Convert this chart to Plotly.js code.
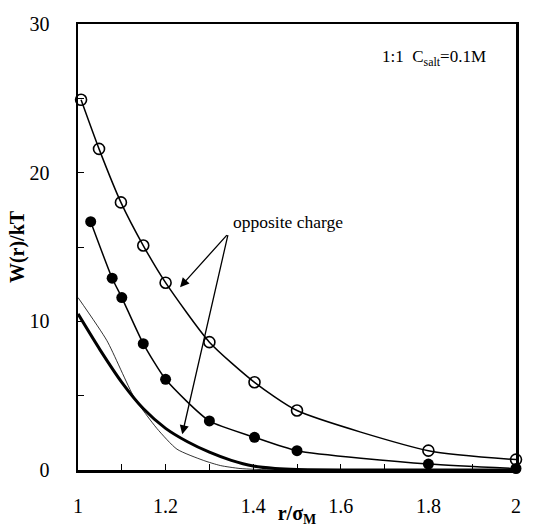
<!DOCTYPE html>
<html>
<head>
<meta charset="utf-8">
<script src="https://cdn.plot.ly/plotly-3.0.1.min.js"></script>
<style>
html,body{margin:0;padding:0;background:#fff;}
#chart{width:543px;height:527px;}
#chart text{font-family:'Liberation Serif','Times New Roman',serif !important;}
</style>
</head>
<body>
<div id="chart"></div>
<script>
// Open circles (upper curve)
const openR = [1.007, 1.048, 1.098, 1.149, 1.2, 1.3, 1.403, 1.5, 1.8, 2.0];
const openW = [24.9, 21.6, 18.0, 15.1, 12.6, 8.6, 5.9, 4.0, 1.3, 0.7];
// Filled circles (middle curve)
const fillR = [1.029, 1.078, 1.1, 1.149, 1.2, 1.3, 1.403, 1.5, 1.8, 2.0];
const fillW = [16.7, 12.9, 11.6, 8.5, 6.1, 3.3, 2.2, 1.3, 0.4, 0.1];
// Thick solid line
const thickR = [1.0, 1.05, 1.1, 1.15, 1.2, 1.25, 1.3, 1.35, 1.4, 1.45, 1.5, 2.0];
const thickW = [10.5, 8.1, 5.9, 4.1, 2.8, 1.9, 1.2, 0.65, 0.27, 0.1, 0.03, 0.0];
// Thin solid line
const thinR = [1.0, 1.066, 1.128, 1.18, 1.226, 1.286, 1.325, 1.37, 1.45, 2.0];
const thinW = [11.6, 8.7, 4.9, 2.8, 1.4, 0.65, 0.3, 0.1, 0.0, 0.0];
// Tick labels
const xTicks = [1, 1.2, 1.4, 1.6, 1.8, 2];
const xTickText = ['1', '1.2', '1.4', '1.6', '1.8', '2'];
const yTicks = [0, 10, 20, 30];
const yTickText = ['0', '10', '20', '30'];

const serif = 'Liberation Serif';

const traces = [
  {x: thinR, y: thinW, mode: 'lines', line: {color: '#000', width: 0.8, shape: 'spline', smoothing: 0.6}, hoverinfo: 'skip'},
  {x: thickR, y: thickW, mode: 'lines', line: {color: '#000', width: 3, shape: 'spline', smoothing: 0.8}, hoverinfo: 'skip'},
  {x: fillR, y: fillW, mode: 'lines+markers', cliponaxis: false,
   line: {color: '#000', width: 1.5, shape: 'spline', smoothing: 0.6},
   marker: {symbol: 'circle', size: 11, color: '#000'}},
  {x: openR, y: openW, mode: 'lines+markers', cliponaxis: false,
   line: {color: '#000', width: 1.5, shape: 'spline', smoothing: 0.6},
   marker: {symbol: 'circle-open', size: 11, color: '#000', line: {width: 1.6, color: '#000'}}}
];

const layout = {
  width: 543, height: 527,
  margin: {l: 78, r: 27, t: 24, b: 57},
  paper_bgcolor: '#fff', plot_bgcolor: '#fff',
  showlegend: false,
  font: {family: serif, color: '#000'},
  xaxis: {
    range: [1, 2], showgrid: false, zeroline: false,
    showline: true, mirror: true, linecolor: '#000', linewidth: 2.5,
    tickmode: 'array', tickvals: xTicks, ticktext: xTickText,
    ticks: 'inside', ticklen: 6, tickwidth: 1, tickcolor: '#000',
    minor: {dtick: 0.1, tick0: 1, ticks: 'inside', ticklen: 6, tickwidth: 1, tickcolor: '#000'},
    tickfont: {family: serif, size: 20, color: '#000'},
    ticklabelstandoff: 16,
    title: {text: '<b>r/σ<sub>M</sub></b>', font: {family: serif, size: 20, color: '#000'}, standoff: 0}
  },
  yaxis: {
    range: [0, 30], showgrid: false, zeroline: false,
    showline: true, mirror: true, linecolor: '#000', linewidth: 2.5,
    tickmode: 'array', tickvals: yTicks, ticktext: yTickText,
    ticks: 'inside', ticklen: 6, tickwidth: 1, tickcolor: '#000',
    minor: {dtick: 5, tick0: 0, ticks: 'inside', ticklen: 6, tickwidth: 1, tickcolor: '#000'},
    tickfont: {family: serif, size: 20, color: '#000'},
    ticklabelstandoff: 22,
    title: {text: '<b>W(r)/kT</b>', font: {family: serif, size: 20, color: '#000'}, standoff: 0}
  },
  annotations: [
    {x: 1.935, y: 27.7, xref: 'x', yref: 'y', xanchor: 'right', yanchor: 'middle', showarrow: false,
     text: '1:1  C<sub>salt</sub>=0.1M', font: {family: serif, size: 17, color: '#000'}},
    {x: 1.48, y: 16.7, xref: 'x', yref: 'y', xanchor: 'center', yanchor: 'middle', showarrow: false,
     text: 'opposite charge', font: {family: serif, size: 17.5, color: '#000'}},
    {x: 1.233, y: 12.3, ax: 1.343, ay: 15.9, xref: 'x', yref: 'y', axref: 'x', ayref: 'y',
     text: '', showarrow: true, arrowhead: 2, arrowsize: 1.4, arrowwidth: 1.3, arrowcolor: '#000'},
    {x: 1.238, y: 2.4, ax: 1.343, ay: 15.9, xref: 'x', yref: 'y', axref: 'x', ayref: 'y',
     text: '', showarrow: true, arrowhead: 2, arrowsize: 1.4, arrowwidth: 1.3, arrowcolor: '#000'}
  ]
};

Plotly.newPlot('chart', traces, layout, {displayModeBar: false, staticPlot: true});
</script>
</body>
</html>
